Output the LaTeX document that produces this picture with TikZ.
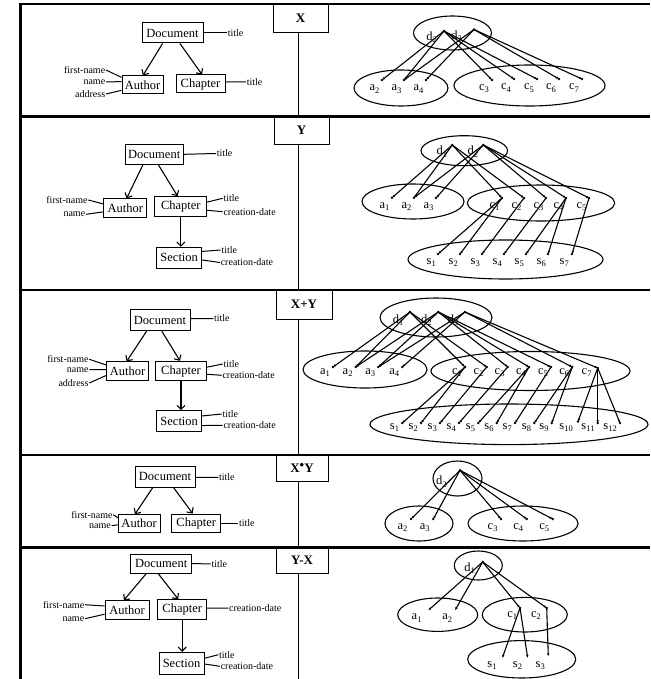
\documentclass[tikz,border=0pt]{standalone}
\usepackage{fontspec}
\setmainfont{Liberation Serif}
\usetikzlibrary{arrows.meta,calc}
\tikzset{
 panel/.style={line width=2.4pt},
 divline/.style={line width=0.8pt},
 lbox/.style={draw, line width=0.9pt, inner sep=0pt, font=\fontsize{13}{15}\selectfont\bfseries},
 ent/.style={draw, line width=1pt, inner sep=0pt, font=\fontsize{12.5}{14}\selectfont},
 attr/.style={inner sep=0.6pt, font=\fontsize{10}{11}\selectfont},
 aline/.style={line width=1pt},
 sarr/.style={line width=1.1pt, -{Straight Barb[length=4pt,width=8pt,line width=1.1pt]}},
 econ/.style={line width=1.1pt, -{Latex[length=3pt,width=2.6pt]}},
 elab/.style={inner sep=0pt, font=\fontsize{12.5}{13}\selectfont},
 oval/.style={line width=1.1pt},
}
\newcommand\el[7]{%
 \coordinate (#1) at (#2,#3);
 \fill (#1) circle[radius=1.35pt];
 \node[elab, anchor=base east] (#1l) at ($(#1)+(#6,#7)$) {#4\raisebox{-2.4pt}{\fontsize{8.5}{9}\selectfont #5}};
}
\newcommand\elx[7]{%
 \coordinate (#1) at (#2,#3);
 \node[elab, anchor=base east] (#1l) at ($(#1)+(#6,#7)$) {#4\raisebox{-2.4pt}{\fontsize{8.5}{9}\selectfont #5}};
}
\newcommand\conn[2]{\foreach \t in {#2} {\draw[econ] (#1) -- (\t);}}
\newcommand\attrL[6]{%
 \node[attr, anchor=east] (#1) at (#2,#3) {#4};
 \draw[aline] (#1.east) -- ($(#5.north west)!#6!(#5.south west)$);
}
\newcommand\attrR[6]{%
 \node[attr, anchor=west] (#1) at (#2,#3) {#4};
 \draw[aline] ($(#5.north east)!#6!(#5.south east)$) -- (#1.west);
}
\newcommand\sarrow[4]{\draw[sarr] ($(#1.south west)!#2!(#1.south east)$) -- ($(#3.north west)!#4!(#3.north east)$);}
\begin{document}
\begin{tikzpicture}[x=1pt,y=-1pt]
\useasboundingbox (0,0) rectangle (650,679);
% frame
\coordinate (V) at (298,0);
\draw[panel] (20.5,2.8) -- (20.5,679);
\draw[panel] (19.3,4) -- (650,4);
\draw[panel] (19.3,116.5) -- (650,116.5);
\draw[panel] (19.3,290) -- (650,290);
\draw[panel] (19.3,455) -- (650,455);
\draw[panel] (19.3,547.5) -- (650,547.5);
% label boxes
\node[lbox, minimum width=55pt, minimum height=28pt] (XL) at (300.5,18) {X};
\node[lbox, minimum width=55pt, minimum height=27.5pt] (YL) at (301.5,130.25) {Y};
\node[lbox, minimum width=56pt, minimum height=29pt] (XYL) at (304,304.5) {X+Y};
\node[lbox, minimum width=52pt, minimum height=26pt] (XIL) at (302,468) {X\raisebox{3pt}{\fontsize{13}{13}\selectfont\textbullet}Y};
\node[lbox, minimum width=52pt, minimum height=25.5pt] (YXL) at (302,560.25) {Y-X};
\draw[divline] (XL.south -| V) -- (298,116.5);
\draw[divline] (YL.south -| V) -- (298,290);
\draw[divline] (XYL.south -| V) -- (298,455);
\draw[divline] (XIL.south -| V) -- (298,547.5);
\draw[divline] (YXL.south -| V) -- (298,679);

% ===== X schema
\node[ent, minimum width=61pt, minimum height=20pt] (XDoc) at (172.5,33) {Document};
\node[ent, minimum width=41pt, minimum height=18pt] (XAu) at (142.5,85) {Author};
\node[ent, minimum width=49pt, minimum height=18pt] (XCh) at (200.5,84) {Chapter};
\sarrow{XDoc}{0.34}{XAu}{0.51}
\sarrow{XDoc}{0.62}{XCh}{0.53}
\attrR{XDt}{227}{33}{title}{XDoc}{0.5}
\attrR{XCt}{246}{82}{title}{XCh}{0.39}
\attrL{XAf}{106}{70}{first-name}{XAu}{0.1}
\attrL{XAn}{106}{82}{name}{XAu}{0.32}
\attrL{XAa}{106}{94}{address}{XAu}{0.78}

% ===== Y schema
\node[ent, minimum width=58.3pt, minimum height=20pt] (YDoc) at (154.2,154.3) {Document};
\node[ent, minimum width=42.7pt, minimum height=18.7pt] (YAu) at (125.3,208.3) {Author};
\node[ent, minimum width=51.7pt, minimum height=20pt] (YCh) at (180.8,206.7) {Chapter};
\node[ent, minimum width=45pt, minimum height=21pt] (YSe) at (179.2,257.8) {Section};
\sarrow{YDoc}{0.31}{YAu}{0.53}
\sarrow{YDoc}{0.57}{YCh}{0.44}
\draw[sarr] (YCh.south) -- (YCh.south |- YSe.north);
\attrR{YDt}{216}{153.5}{title}{YDoc}{0.5}
\attrL{YAf}{88.3}{200}{first-name}{YAu}{0.28}
\attrL{YAn}{86}{214.3}{name}{YAu}{0.68}
\attrR{YCt}{222.7}{198.3}{title}{YCh}{0.28}
\attrR{YCc}{222.7}{211.7}{creation-date}{YCh}{0.67}
\attrR{YSt}{220.7}{250}{title}{YSe}{0.21}
\attrR{YSc}{220}{262.5}{creation-date}{YSe}{0.6}

% ===== X+Y schema
\node[ent, minimum width=60pt, minimum height=21pt] (XYDoc) at (160,320.2) {Document};
\node[ent, minimum width=41.6pt, minimum height=18.7pt] (XYAu) at (127.5,371.3) {Author};
\node[ent, minimum width=51.4pt, minimum height=19.4pt] (XYCh) at (181,371) {Chapter};
\node[ent, minimum width=45pt, minimum height=21.3pt] (XYSe) at (179.2,421.3) {Section};
\sarrow{XYDoc}{0.28}{XYAu}{0.48}
\sarrow{XYDoc}{0.53}{XYCh}{0.48}
\draw[sarr] (XYCh.south) -- (XYCh.south |- XYSe.north);
\attrR{XYDt}{213.3}{318.5}{title}{XYDoc}{0.43}
\attrL{XYAf}{89.3}{359.3}{first-name}{XYAu}{0.18}
\attrL{XYAn}{89.3}{369.7}{name}{XYAu}{0.41}
\attrL{XYAa}{89.3}{383}{address}{XYAu}{0.71}
\attrR{XYCt}{222.7}{364}{title}{XYCh}{0.31}
\attrR{XYCc}{221.7}{375.3}{creation-date}{XYCh}{0.66}
\attrR{XYSt}{221.7}{414}{title}{XYSe}{0.26}
\attrR{XYSc}{222.7}{425.3}{creation-date}{XYSe}{0.69}

% ===== X.Y schema
\node[ent, minimum width=60pt, minimum height=20.7pt] (XIDoc) at (165,476.7) {Document};
\node[ent, minimum width=41.7pt, minimum height=17.6pt] (XIAu) at (139.2,523.5) {Author};
\node[ent, minimum width=49pt, minimum height=18pt] (XICh) at (196.2,523) {Chapter};
\sarrow{XIDoc}{0.3}{XIAu}{0.4}
\sarrow{XIDoc}{0.64}{XICh}{0.43}
\attrR{XIDt}{218.3}{477.3}{title}{XIDoc}{0.53}
\attrL{XIAf}{113.3}{514.7}{first-name}{XIAu}{0.19}
\attrL{XIAn}{111.7}{525.7}{name}{XIAu}{0.57}
\attrR{XICt}{238.3}{523}{title}{XICh}{0.5}

% ===== Y-X schema
\node[ent, minimum width=61pt, minimum height=19pt] (YXDoc) at (161.2,563.5) {Document};
\node[ent, minimum width=44pt, minimum height=19pt] (YXAu) at (127,610.2) {Author};
\node[ent, minimum width=49pt, minimum height=20pt] (YXCh) at (182.2,609.7) {Chapter};
\node[ent, minimum width=45pt, minimum height=22pt] (YXSe) at (181.5,663.3) {Section};
\sarrow{YXDoc}{0.26}{YXAu}{0.43}
\sarrow{YXDoc}{0.45}{YXCh}{0.42}
\draw[sarr] (YXCh.south) -- (YXCh.south |- YXSe.north);
\attrR{YXDt}{210.7}{564}{title}{YXDoc}{0.5}
\attrL{YXAf}{85}{604.7}{first-name}{YXAu}{0.29}
\attrL{YXAn}{85}{618.7}{name}{YXAu}{0.7}
\attrR{YXCc}{228.3}{608}{creation-date}{YXCh}{0.42}
\attrR{YXSt}{218.3}{654.7}{title}{YXSe}{0.28}
\attrR{YXSc}{220}{666.3}{creation-date}{YXSe}{0.53}

% ===== X instances
\draw[oval] (452.5,33) ellipse [x radius=39pt, y radius=17pt];
\draw[oval] (401,88) ellipse [x radius=47pt, y radius=18pt];
\draw[oval] (529.5,85.5) ellipse [x radius=75.5pt, y radius=20.5pt];
\el{Xd2}{444}{31}{d}{2}{-7}{9.5}
\el{Xd3}{474}{29.5}{d}{3}{-12}{10}
\el{Xa2}{382}{80}{a}{2}{-2.5}{11}
\el{Xa3}{404}{80}{a}{3}{-2.5}{11}
\el{Xa4}{426}{80}{a}{4}{-2.5}{11}
\el{Xc3}{492}{80}{c}{3}{-3}{10.5}
\el{Xc4}{514}{79}{c}{4}{-3}{11}
\el{Xc5}{537}{79}{c}{5}{-3}{11}
\el{Xc6}{559}{79}{c}{6}{-3}{11}
\el{Xc7}{582}{79}{c}{7}{-3}{11}
\conn{Xd2}{Xa2,Xa3,Xc3,Xc4,Xc5}
\conn{Xd3}{Xa3,Xa4,Xc6,Xc7}

% ===== Y instances
\draw[oval] (464.3,150.7) ellipse [x radius=43.3pt, y radius=15pt];
\draw[oval] (413,201.5) ellipse [x radius=51pt, y radius=17.5pt];
\draw[oval] (541,203) ellipse [x radius=73.7pt, y radius=18pt];
\draw[oval] (505.5,259.5) ellipse [x radius=97.5pt, y radius=19.5pt];
\el{Yd1}{452.3}{145}{d}{1}{-5}{10}
\el{Yd2}{483.3}{145}{d}{2}{-5}{10}
\el{Ya1}{392}{197.7}{a}{1}{-2.5}{10.5}
\el{Ya2}{414}{197.7}{a}{2}{-2.5}{10.5}
\el{Ya3}{436}{198}{a}{3}{-2.5}{10.5}
\el{Yc1}{502}{198}{c}{1}{-2.5}{10.5}
\el{Yc2}{524}{198}{c}{2}{-2.5}{10.5}
\el{Yc3}{546}{198}{c}{3}{-2.5}{10.5}
\el{Yc4}{566}{198}{c}{4}{-2.5}{10.5}
\el{Yc5}{589}{198}{c}{5}{-2.5}{10.5}
\el{Ys1}{438}{254}{s}{1}{-2}{10.5}
\el{Ys2}{460}{254}{s}{2}{-2}{10.5}
\el{Ys3}{482}{254}{s}{3}{-2}{10.5}
\el{Ys4}{504}{254}{s}{4}{-2}{10.5}
\el{Ys5}{526}{254}{s}{5}{-2}{10.5}
\el{Ys6}{548}{254}{s}{6}{-2}{10.5}
\el{Ys7}{572}{254}{s}{7}{-3}{10.5}
\conn{Yd1}{Ya1,Ya2,Yc1,Yc2}
\conn{Yd2}{Ya2,Ya3,Yc3,Yc4,Yc5}
\conn{Yc1}{Ys1,Ys2}
\conn{Yc2}{Ys3}
\conn{Yc3}{Ys4}
\conn{Yc4}{Ys5,Ys6}
\conn{Yc5}{Ys7}

% ===== X+Y instances
\draw[oval] (436,317.5) ellipse [x radius=56pt, y radius=19.5pt];
\draw[oval] (365,369.5) ellipse [x radius=62pt, y radius=18.5pt];
\draw[oval] (530.5,371) ellipse [x radius=99.5pt, y radius=19.5pt];
\draw[oval] (509,424.3) ellipse [x radius=139pt, y radius=20.3pt];
\el{XYd1}{410}{312}{d}{1}{-6.5}{11}
\el{XYd2}{438.3}{312}{d}{2}{-6.5}{11}
\el{XYd3}{465}{312}{d}{3}{-6.5}{11}
\el{XYa1}{333}{367}{a}{1}{-3}{7}
\el{XYa2}{355.7}{367}{a}{2}{-3}{7}
\el{XYa3}{378.3}{367}{a}{3}{-3}{7}
\el{XYa4}{402.3}{367}{a}{4}{-3}{7}
\el{XYc1}{465}{367}{c}{1}{-3}{7}
\el{XYc2}{486.7}{367}{c}{2}{-3}{7}
\el{XYc3}{507.7}{367}{c}{3}{-3}{7}
\el{XYc4}{529}{367}{c}{4}{-3}{7}
\el{XYc5}{551}{367}{c}{5}{-3}{7}
\el{XYc6}{572.3}{367}{c}{6}{-3}{7}
\el{XYc7}{597.7}{368}{c}{7}{-6}{6}
\el{XYs1}{402.3}{423}{s}{1}{-3}{6.5}
\el{XYs2}{421}{423}{s}{2}{-3}{6.5}
\el{XYs3}{440}{423}{s}{3}{-3}{6.5}
\el{XYs4}{459}{423}{s}{4}{-3}{6.5}
\el{XYs5}{478.3}{423}{s}{5}{-3}{6.5}
\el{XYs6}{496.7}{423}{s}{6}{-3}{6.5}
\el{XYs7}{515}{423}{s}{7}{-3}{6.5}
\el{XYs8}{534.3}{423}{s}{8}{-3}{6.5}
\el{XYs9}{551.7}{423}{s}{9}{-3}{6.5}
\el{XYs10}{578}{421.5}{s}{10}{-5}{8}
\el{XYs11}{597.7}{423}{s}{11}{-3}{6.5}
\el{XYs12}{620}{423}{s}{12}{-3}{6.5}
\conn{XYd1}{XYa1,XYa2,XYc1,XYc2}
\conn{XYd2}{XYa2,XYa3,XYc3,XYc4,XYc5}
\conn{XYd3}{XYa3,XYa4,XYc6,XYc7}
\conn{XYc1}{XYs1,XYs2}
\conn{XYc2}{XYs3}
\conn{XYc3}{XYs4}
\conn{XYc4}{XYs5,XYs6}
\conn{XYc5}{XYs7}
\conn{XYc6}{XYs8,XYs9}
\conn{XYc7}{XYs10,XYs11,XYs12}

% ===== X.Y instances
\draw[oval] (457.5,478.5) ellipse [x radius=24.5pt, y radius=17.5pt];
\draw[oval] (419,523.5) ellipse [x radius=34pt, y radius=17.5pt];
\draw[oval] (523,523.5) ellipse [x radius=55pt, y radius=17.5pt];
\el{XId2}{460}{470.3}{d}{2}{-13.3}{14.4}
\el{XIa2}{411}{519}{a}{2}{-3.5}{10}
\el{XIa3}{433.3}{519}{a}{3}{-3.5}{10}
\el{XIc3}{501}{519}{c}{3}{-3.3}{10}
\el{XIc4}{526.7}{519}{c}{4}{-3.3}{10}
\el{XIc5}{552.7}{519}{c}{5}{-3.3}{10}
\conn{XId2}{XIa2,XIa3,XIc3,XIc4,XIc5}

% ===== Y-X instances
\draw[oval] (478.3,565.5) ellipse [x radius=24pt, y radius=14.5pt];
\draw[oval] (437.7,614.7) ellipse [x radius=40pt, y radius=16.7pt];
\draw[oval] (524.8,614.7) ellipse [x radius=42.5pt, y radius=17.3pt];
\draw[oval] (521.7,659.3) ellipse [x radius=54pt, y radius=18.7pt];
\el{YXd1}{482.7}{562}{d}{1}{-7.7}{9.3}
\elx{YXa1}{428.3}{610.3}{a}{1}{-6.6}{9.4}
\elx{YXa2}{455}{610.3}{a}{2}{-2.7}{9.4}
\el{YXc1}{520}{608}{c}{1}{-2.7}{9.3}
\el{YXc2}{546.7}{608}{c}{2}{-5.7}{9.3}
\elx{YXs1}{502.3}{658}{s}{1}{-5.6}{9.3}
\elx{YXs2}{527.7}{658}{s}{2}{-5.4}{9.3}
\elx{YXs3}{548.3}{656.3}{s}{3}{-3.3}{11}
\conn{YXd1}{YXa1,YXa2,YXc1,YXc2}
\conn{YXc1}{YXs1,YXs2}
\conn{YXc2}{YXs3}
\end{tikzpicture}
\end{document}
